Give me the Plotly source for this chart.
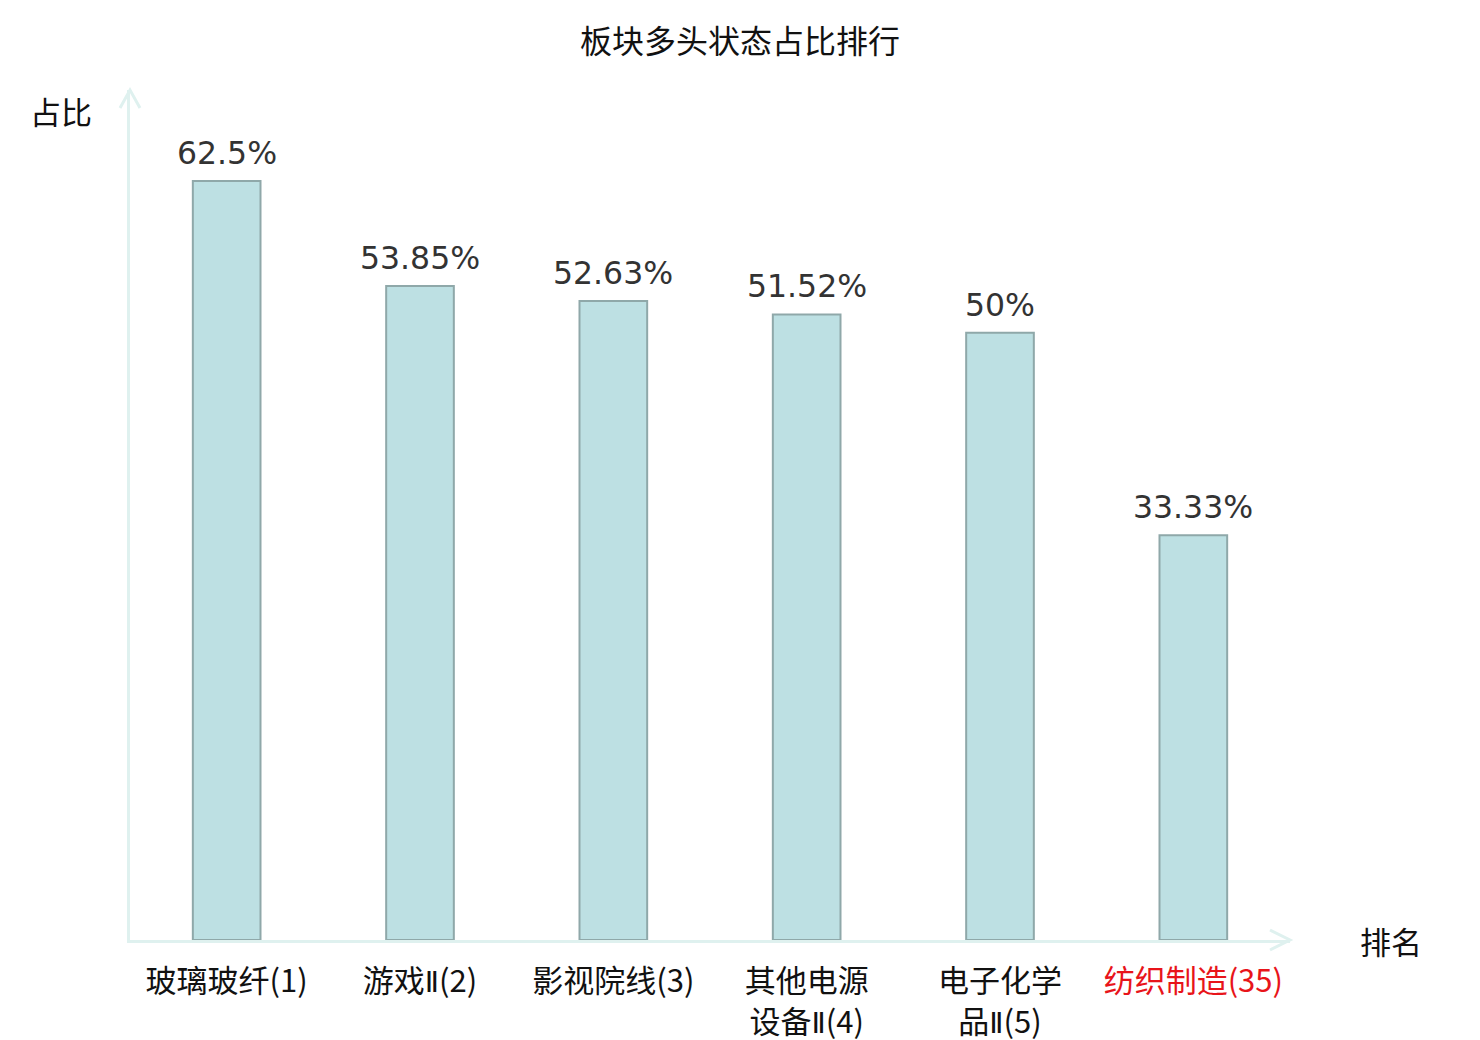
import plotly.graph_objects as go

# data
categories = ["玻璃玻纤(1)", "游戏Ⅱ(2)", "影视院线(3)", "其他电源<br>设备Ⅱ(4)", "电子化学<br>品Ⅱ(5)", "纺织制造(35)"]
ratios = [62.5, 53.85, 52.63, 51.52, 50, 33.33]
value_labels = ["62.5%", "53.85%", "52.63%", "51.52%", "50%", "33.33%"]
label_colors = ["#111111", "#111111", "#111111", "#111111", "#111111", "#e8141a"]

axis_color = "#dff1ef"
cjk = "Noto Sans CJK SC"
xs = list(range(len(categories)))

fig = go.Figure(go.Bar(
    x=xs,
    y=ratios,
    width=0.35,
    marker=dict(color="#bde0e3", line=dict(color="#8fa8a9", width=2)),
    hoverinfo="skip",
))

# narrow roman numeral, coloured tick labels
tick_text = []
for t, c in zip(categories, label_colors):
    t = t.replace("Ⅱ", '<span style="font-family:DejaVu Sans;font-size:29px">Ⅱ</span>')
    tick_text.append(f'<span style="color:{c}">{t}</span>')

value_notes = [
    dict(x=x, y=v, text=s, xref="x", yref="y", showarrow=False, yanchor="bottom", yshift=8,
         font=dict(family="DejaVu Sans", size=31.5, color="#333333"))
    for x, v, s in zip(xs, ratios, value_labels)
]

# figure sits inside the page's 8px body margin
W, H = 1464, 1032
L, R, T, B = 122, 182, 82, 100
w, h = W - L - R, H - T - B

fig.update_layout(
    width=W, height=H,
    margin=dict(l=L, r=R, t=T, b=B, autoexpand=False),
    plot_bgcolor="white", paper_bgcolor="white",
    showlegend=False,
    title=dict(text="板块多头状态占比排行", x=0.5, xref="container", xanchor="center",
               y=1 - 34 / H, yref="container", yanchor="middle",
               font=dict(family=cjk, size=32, color="#111111")),
    xaxis=dict(range=[-0.5, 5.5], tickvals=xs, ticktext=tick_text, automargin=False,
               showgrid=False, zeroline=False, showline=True, linecolor=axis_color, linewidth=3,
               ticks="", ticklabelstandoff=12, tickfont=dict(family=cjk, size=31, color="#111111")),
    yaxis=dict(range=[0, 70], showgrid=False, zeroline=False, showline=True, automargin=False,
               linecolor=axis_color, linewidth=3, showticklabels=False, ticks=""),
    annotations=value_notes + [
        dict(text="占比", x=-36 / w, y=1 - 20 / h, xref="paper", yref="paper", xanchor="right",
             yanchor="middle", showarrow=False, font=dict(family=cjk, size=31, color="#111111")),
        dict(text="排名", x=1 + 68 / w, y=0.0, xref="paper", yref="paper", xanchor="left",
             yanchor="middle", showarrow=False, font=dict(family=cjk, size=31, color="#111111")),
    ],
    shapes=[
        dict(type="path", xref="paper", yref="paper",
             path=f"M {-10 / w},{1 - 18 / h} L 0,1 L {10 / w},{1 - 18 / h}",
             line=dict(color=axis_color, width=3)),
        dict(type="path", xref="paper", yref="paper",
             path=f"M {1 - 20 / w},{10 / h} L 1,0 L {1 - 20 / w},{-10 / h}",
             line=dict(color=axis_color, width=3)),
    ],
)

fig.write_html("out.html")
